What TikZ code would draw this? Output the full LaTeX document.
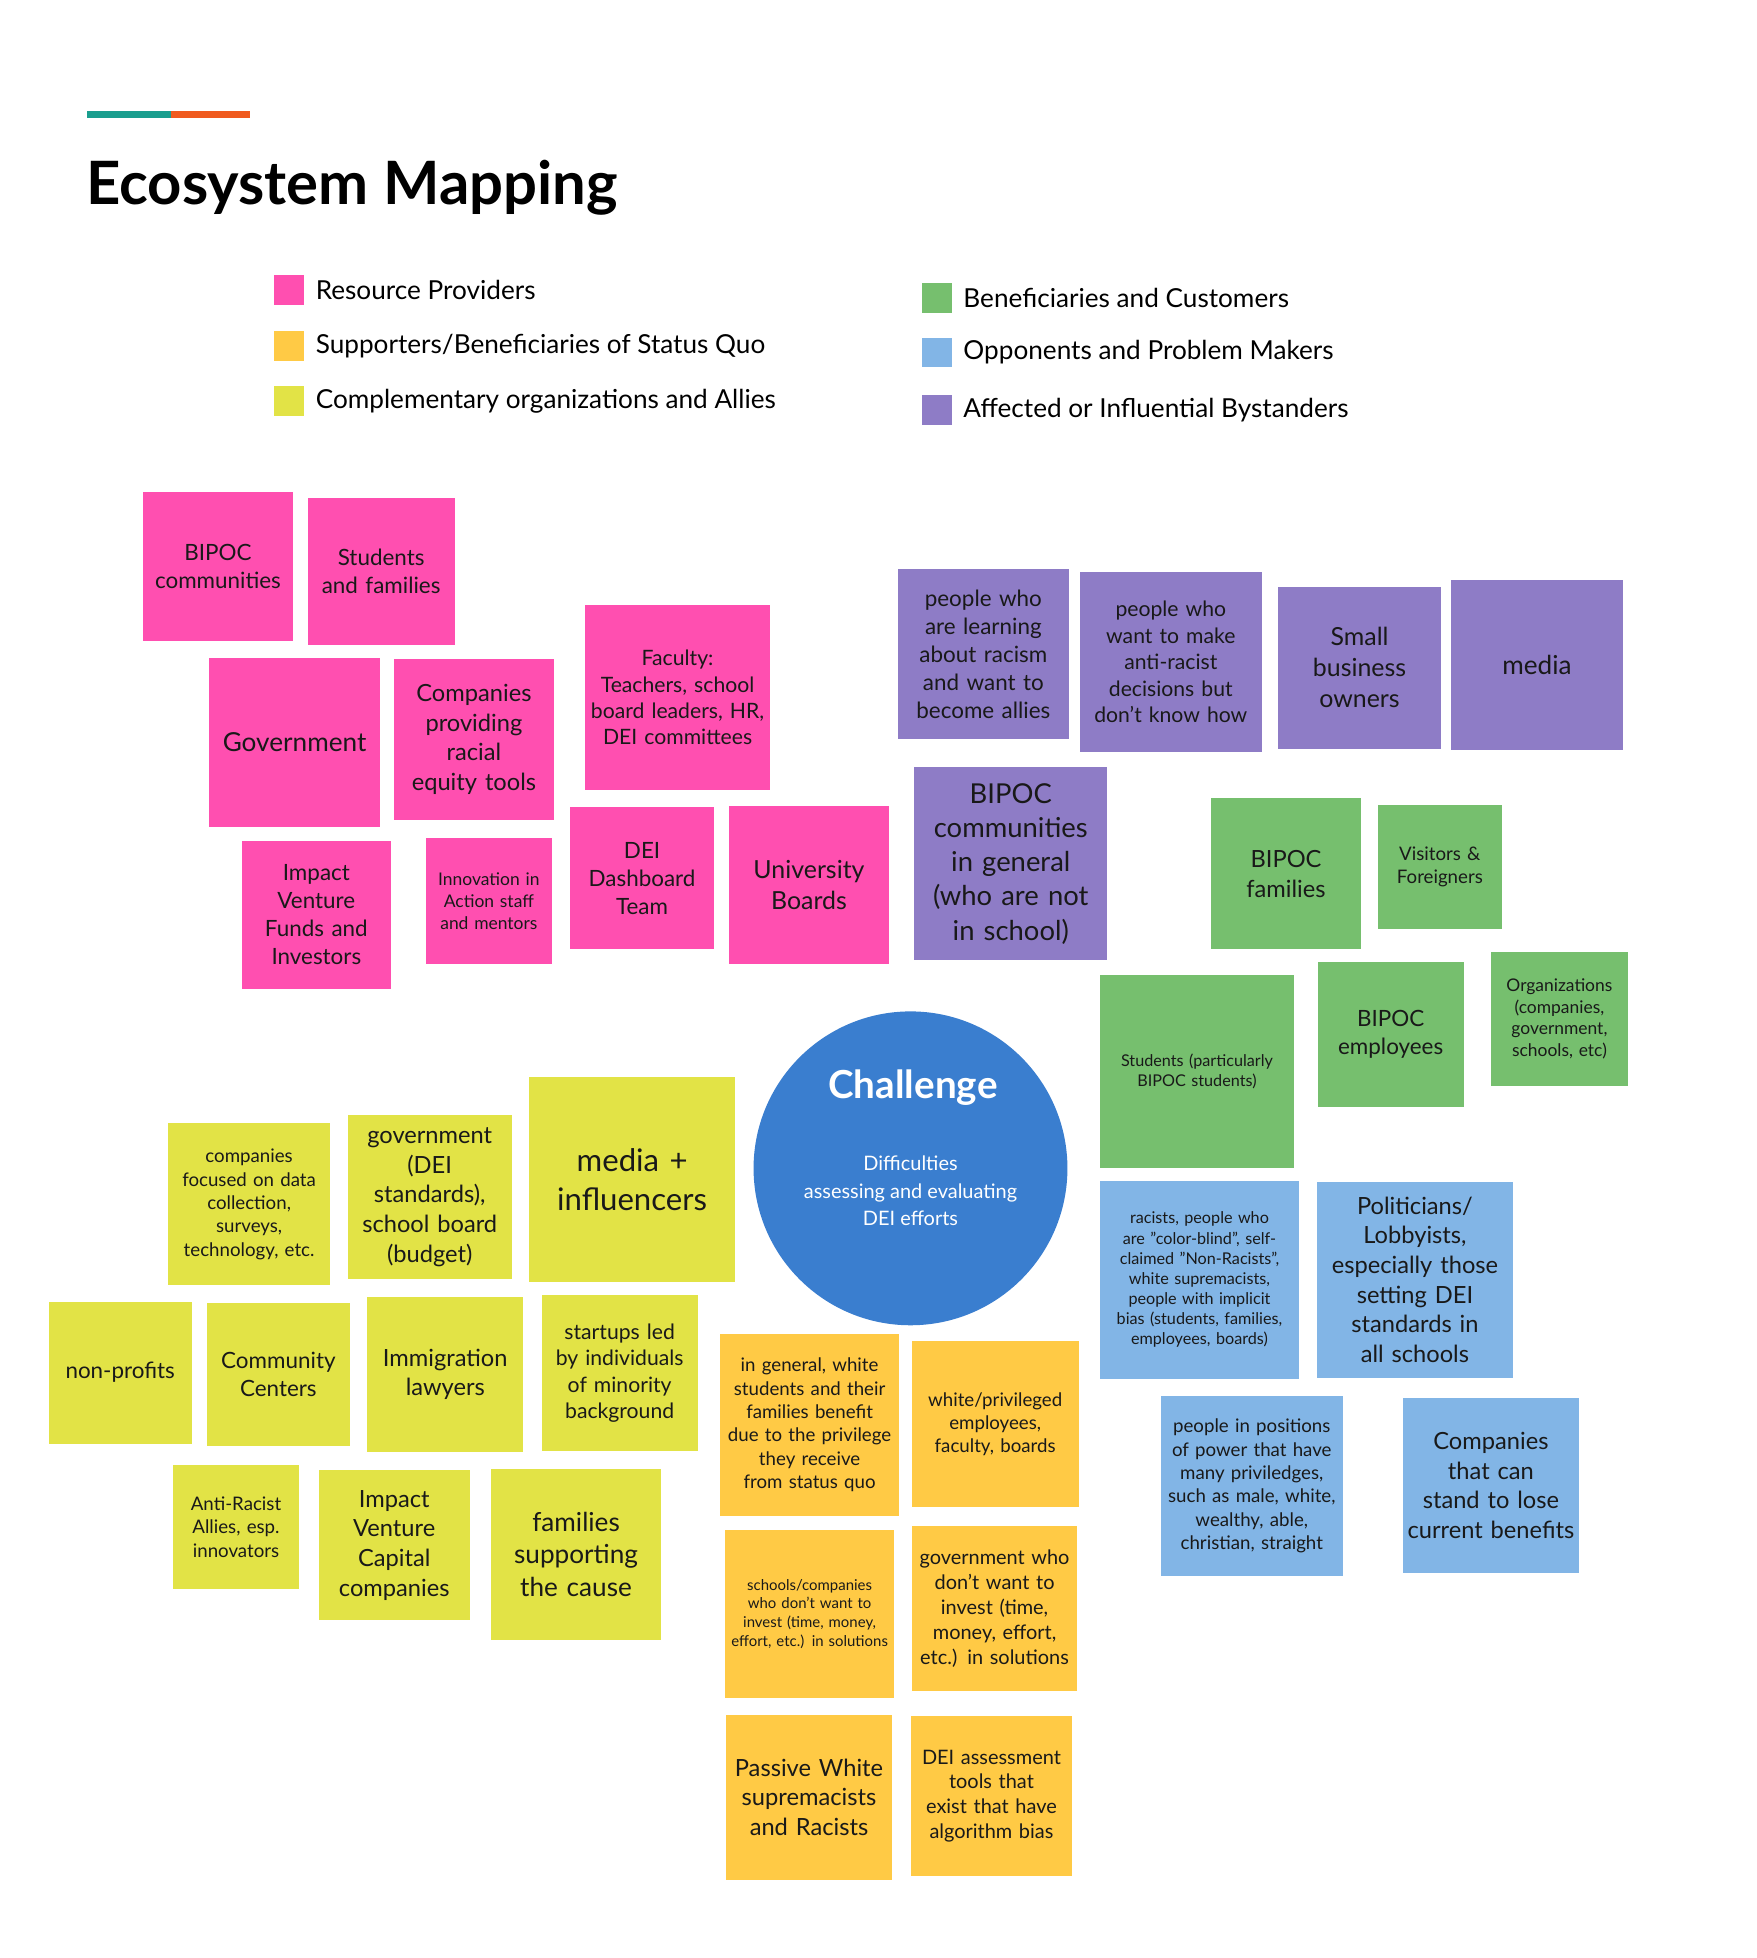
\documentclass[tikz,border=0pt]{standalone}
\usepackage{fontspec}
\setmainfont{Lato}
\lefthyphenmin=64
\definecolor{cpink}{HTML}{FF4FB0}
\definecolor{corange}{HTML}{FFCA45}
\definecolor{cyellow}{HTML}{E2E346}
\definecolor{cgreen}{HTML}{76BF6E}
\definecolor{cblue}{HTML}{82B5E6}
\definecolor{cpurple}{HTML}{8E7CC6}
\definecolor{cchal}{HTML}{3A7ECF}
\definecolor{cteal}{HTML}{1A9E8E}
\definecolor{cbar}{HTML}{F05A1E}
\tikzset{box/.style={draw=none,inner sep=2pt,align=center,text=black!90}}
\newcommand\sticky[8]{%
  \node[box,fill=#6,minimum width={(#4-#2)*1pt},minimum height={(#5-#3)*1pt},text width={(#4-#2-8)*1pt},
   font={\fontsize{#7}{\fpeval{round(#7*1.25,1)}}\selectfont\lefthyphenmin=64}]
   (#1) at ({(#2+#4)/2},{-(#3+#5)/2}) {#8};}
\newcommand\legitem[5]{%
  \node[fill=#4,minimum size=24pt,inner sep=0pt] (#1) at (#2,-#3) {};
  \node[anchor=west,font=\fontsize{21}{25}\selectfont] (#1t) at (#2+18,-#3) {#5};}
\begin{document}
\begin{tikzpicture}[x=1pt,y=1pt]
\useasboundingbox (0,0) rectangle (1410,-1572);
\fill[cteal] (70,-89) rectangle (137,-95);
\fill[cbar] (137,-89) rectangle (201,-95);
\node[anchor=base west,inner sep=0pt,font=\fontsize{48}{52}\selectfont\bfseries] (title) at (69,-164) {Ecosystem Mapping};
\legitem{l1}{232}{233}{cpink}{Resource Providers}
\legitem{l2}{232}{278}{corange}{Supporters/Beneficiaries of Status Quo}
\legitem{l3}{232}{322}{cyellow}{Complementary organizations and Allies}
\legitem{l4}{752}{239}{cgreen}{Beneficiaries and Customers}
\legitem{l5}{752}{283}{cblue}{Opponents and Problem Makers}
\legitem{l6}{752}{329}{cpurple}{Affected or Influential Bystanders}
% pink
\sticky{p1}{115}{395}{235}{515}{cpink}{18}{BIPOC communities}
\sticky{p2}{247}{400}{365}{518}{cpink}{18}{Students and families}
\sticky{p3}{168}{528}{305}{664}{cpink}{21}{Government}
\sticky{p4}{316}{529}{445}{658}{cpink}{19}{Companies providing racial equity tools}
\sticky{p5}{470}{486}{618}{634}{cpink}{17}{Faculty:\\ Teachers, school board leaders, HR, DEI committees}
\sticky{p6}{194}{675}{314}{794}{cpink}{18}{Impact Venture Funds and Investors}
\sticky{p7}{342}{673}{443}{774}{cpink}{14}{Innovation in Action staff and mentors}
\sticky{p8}{458}{648}{573}{762}{cpink}{18}{DEI\\ Dashboard Team}
\sticky{p9}{585}{647}{714}{774}{cpink}{20}{University Boards}
% purple
\sticky{u1}{721}{457}{858}{593}{cpurple}{18}{people who are learning about racism and want to become allies}
\sticky{u2}{867}{459}{1013}{604}{cpurple}{17}{people who want to make anti-racist decisions but don't know how}
\sticky{u3}{1026}{471}{1157}{601}{cpurple}{20}{Small business owners}
\sticky{u4}{1165}{466}{1303}{602}{cpurple}{21}{media}
\sticky{u5}{734}{616}{889}{771}{cpurple}{22}{BIPOC communities in general (who are not in school)}
% green
\sticky{g1}{972}{641}{1093}{762}{cgreen}{19}{BIPOC families}
\sticky{g2}{1106}{646}{1206}{746}{cgreen}{15}{Visitors \& Foreigners}
\sticky{g3}{883}{783}{1039}{938}{cgreen}{13}{Students (particularly BIPOC students)}
\sticky{g4}{1058}{772}{1175}{889}{cgreen}{18}{BIPOC employees}
\sticky{g5}{1197}{764}{1307}{872}{cgreen}{14}{Organizations (companies, government, schools, etc)}
% blue
\sticky{b1}{883}{948}{1043}{1107}{cblue}{13}{racists, people who are "color-blind", self-claimed "Non-Racists", white supremacists, people with implicit bias (students, families, employees, boards)}
\sticky{b2}{1057}{949}{1215}{1106}{cblue}{19}{Politicians/ Lobbyists, especially those setting DEI standards in all schools}
\sticky{b3}{932}{1121}{1078}{1265}{cblue}{15}{people in positions of power that have many priviledges, such as male, white, wealthy, able, christian, straight}
\sticky{b4}{1126}{1122}{1268}{1263}{cblue}{19}{Companies that can stand to lose current benefits}
% orange
\sticky{o1}{578}{1071}{722}{1217}{corange}{15}{in general, white students and their families benefit due to the privilege they receive from status quo}
\sticky{o2}{732}{1077}{866}{1210}{corange}{15}{white/privileged employees, faculty, boards}
\sticky{o3}{582}{1228}{718}{1363}{corange}{12}{schools/companies who don't want to invest (time, money, effort, etc.) in solutions}
\sticky{o4}{732}{1225}{865}{1358}{corange}{16}{government who don't want to invest (time, money, effort, etc.) in solutions}
\sticky{o5}{583}{1377}{716}{1509}{corange}{19}{Passive White supremacists and Racists}
\sticky{o6}{731}{1378}{861}{1506}{corange}{16}{DEI assessment tools that exist that have algorithm bias}
% yellow
\sticky{y1}{135}{902}{265}{1032}{cyellow}{15}{companies focused on data collection, surveys, technology, etc.}
\sticky{y2}{279}{895}{411}{1027}{cyellow}{19}{government (DEI standards), school board (budget)}
\sticky{y3}{425}{865}{590}{1029}{cyellow}{25}{media + influencers}
\sticky{y4}{39}{1045}{154}{1159}{cyellow}{18}{non-profits}
\sticky{y5}{166}{1046}{281}{1161}{cyellow}{18}{Community Centers}
\sticky{y6}{295}{1041}{420}{1166}{cyellow}{19}{Immigration lawyers}
\sticky{y7}{435}{1040}{560}{1165}{cyellow}{17}{startups led by individuals of minority background}
\sticky{y8}{139}{1176}{240}{1276}{cyellow}{15}{Anti-Racist Allies, esp. innovators}
\sticky{y9}{256}{1180}{377}{1301}{cyellow}{19}{Impact Venture Capital companies}
\sticky{y10}{394}{1179}{531}{1317}{cyellow}{21}{families supporting the cause}
% challenge
\node[circle,fill=cchal,minimum size=252pt,inner sep=0pt] (ch) at (731,-938) {};
\node[text=white,font=\fontsize{31}{36}\selectfont\bfseries] (cht) at (733,-873) {Challenge};
\node[text=white,align=center,font=\fontsize{16}{22}\selectfont] (chs) at (731,-956) {Difficulties\\assessing and evaluating\\DEI efforts};
\end{tikzpicture}
\end{document}
